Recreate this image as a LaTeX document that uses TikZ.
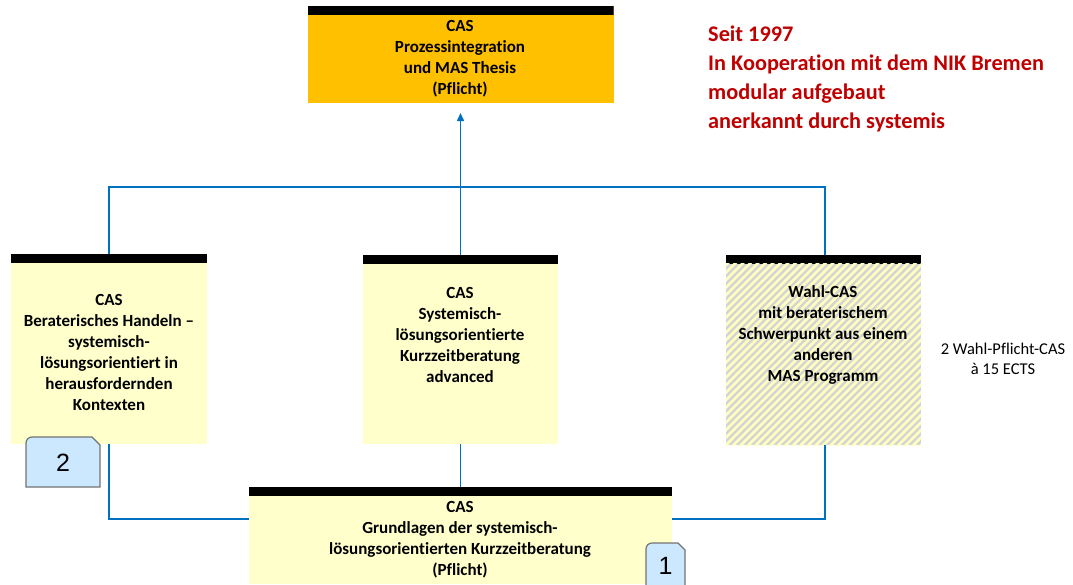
\documentclass[tikz,border=0pt]{standalone}
\usepackage{fontspec}
\setmainfont{Carlito}[Ligatures=NoCommon]
\newfontfamily\arialf{Liberation Sans}
\usetikzlibrary{arrows.meta}
\definecolor{casyellow}{HTML}{FFC000}
\definecolor{lightyel}{HTML}{FFFFCC}
\definecolor{stripeyel}{HTML}{FFFFC0}
\definecolor{lineblue}{HTML}{0070C0}
\definecolor{redtxt}{HTML}{C00000}
\definecolor{badgeblue}{HTML}{CCE8FF}
\definecolor{stripegray}{HTML}{D4D4D4}
\tikzset{
  casbox/.style={draw=none, inner sep=0pt, outer sep=0pt,
    path picture={\fill[black] (path picture bounding box.north west) rectangle ([yshift=-8.5pt]path picture bounding box.north east);}},
  castext/.style={align=center, inner sep=0pt, font=\bfseries\fontsize{17}{21}\selectfont},
  conn/.style={draw=lineblue, line width=1.5pt},
  badge/.style={fill=badgeblue, draw=gray!90!black, line width=1.2pt},
  badgetext/.style={inner sep=0pt, font=\arialf\fontsize{25}{28}\selectfont},
}
\begin{document}
\begin{tikzpicture}[x=1pt,y=-1pt]
\useasboundingbox (0,0) rectangle (1073,584);
% boxes
\node[casbox, fill=casyellow, minimum width=306pt, minimum height=97pt] (top) at (460.5,54.5) {};
\node[casbox, fill=lightyel, minimum width=196pt, minimum height=190pt] (left) at (109,349) {};
\node[casbox, fill=lightyel, minimum width=195pt, minimum height=189pt] (mid) at (460.5,349.5) {};
\node[casbox, fill=stripegray, minimum width=195pt, minimum height=190pt] (right) at (823.5,350) {};
\node[casbox, fill=lightyel, minimum width=423pt, minimum height=97pt] (bot) at (460.5,535.5) {};
% stripes in the right box
\begin{scope}
  \clip (726,263.5) rectangle (921,445);
  \foreach \i in {-200,-192.5,...,200}{
    \draw[stripeyel, line width=2.6pt] (726+\i,450) -- (726+\i+200,250);
  }
\end{scope}
% texts
\node[castext] (ttop) at (460,59) {CAS\\Prozessintegration\\und MAS Thesis\\(Pflicht)};
\node[castext] (tleft) at (109,352) {CAS\\Beraterisches Handeln --\\systemisch-\\lösungsorientiert in\\herausfordernden\\Kontexten};
\node[castext] (tmid) at (460,335) {CAS\\Systemisch-\\lösungsorientierte\\Kurzzeitberatung\\advanced};
\node[castext] (tright) at (823,335) {Wahl-CAS\\mit beraterischem\\Schwerpunkt aus einem\\anderen\\MAS Programm};
\node[castext] (tbot) at (460,540) {CAS\\Grundlagen der systemisch-\\lösungsorientierten Kurzzeitberatung\\(Pflicht)};
\node[anchor=west, align=left, inner sep=0pt, text=redtxt, font=\bfseries\fontsize{22.3}{29}\selectfont] (red) at (708,79)
  {Seit 1997\\In Kooperation mit dem NIK Bremen\\modular aufgebaut\\anerkannt durch systemis};
\node[align=center, inner sep=0pt, font=\fontsize{16.5}{20}\selectfont] (wahl) at (1003,359) {2 Wahl-Pflicht-CAS\\à 15 ECTS};
% connectors
\draw[conn, -{Triangle[length=8pt,width=7pt]}] (mid.north) -- ([yshift=-10pt]top.south);
\draw[conn] (left.north) -- (left.north |- 0,187) -| ([xshift=1.5pt]right.north);
\draw[conn] (left.south) |- ([yshift=16.5pt]bot.west);
\draw[conn] (mid.south) -- (bot.north);
\draw[conn] ([xshift=1.5pt]right.south) |- ([yshift=16.5pt]bot.east);
% badges
\draw[badge] (26,487) -- (26,443) arc[start angle=180, end angle=270, radius=6] -- (92,437) -- (100,445) -- (100,487) -- cycle;
\node[badgetext] (b2) at (63,463) {2};
\draw[badge] (646,590) -- (646,549) arc[start angle=180, end angle=270, radius=6] -- (678,543) -- (685,550) -- (685,590);
\node[badgetext] (b1) at (665.5,566) {1};
\end{tikzpicture}
\end{document}
